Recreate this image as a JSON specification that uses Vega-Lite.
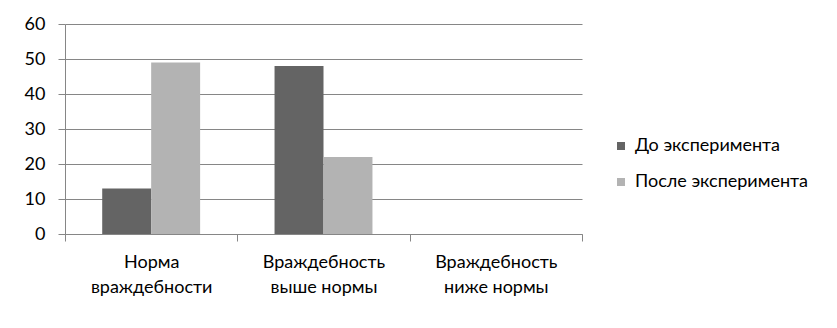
{
  "$schema": "https://vega.github.io/schema/vega-lite/v6.json",
  "autosize": {"type": "none"},
  "padding": {"left": 65, "top": 24, "right": 255, "bottom": 94},
  "width": 517,
  "height": 210,
  "background": "white",
  "config": {
    "view": {"stroke": null},
    "font": "Lato",
    "axis": {"labelFont": "Lato", "labelFontSize": 18, "labelColor": "#000000", "domainColor": "#868686", "tickColor": "#868686", "gridColor": "#868686", "gridOpacity": 1, "tickSize": 7, "titleFontSize": 0},
    "legend": {"labelFont": "Lato", "labelFontSize": 18, "labelColor": "#000000", "labelLimit": 300}
  },
  "data": {
    "values": [
      {"category": "Норма враждебности", "series": "До эксперимента", "value": 13},
      {"category": "Норма враждебности", "series": "После эксперимента", "value": 49},
      {"category": "Враждебность выше нормы", "series": "До эксперимента", "value": 48},
      {"category": "Враждебность выше нормы", "series": "После эксперимента", "value": 22},
      {"category": "Враждебность ниже нормы", "series": "До эксперимента", "value": 0},
      {"category": "Враждебность ниже нормы", "series": "После эксперимента", "value": 0}
    ]
  },
  "mark": {"type": "bar"},
  "encoding": {
    "x": {
      "field": "category",
      "type": "nominal",
      "sort": null,
      "scale": {"paddingInner": 0, "paddingOuter": 0},
      "axis": {
        "title": null,
        "labelAngle": 0,
        "tickBand": "extent",
        "labelPadding": 12,
        "labelBaseline": "top",
        "labelLineHeight": 25,
        "labelExpr": "[substring(datum.label, 0, indexof(datum.label, ' ')), substring(datum.label, indexof(datum.label, ' ') + 1)]"
      }
    },
    "xOffset": {
      "field": "series",
      "type": "nominal",
      "sort": null,
      "scale": {"paddingInner": 0, "paddingOuter": 0.76}
    },
    "y": {
      "field": "value",
      "type": "quantitative",
      "scale": {"domain": [0, 60], "nice": false},
      "axis": {"title": null, "values": [0, 10, 20, 30, 40, 50, 60], "grid": true, "labelPadding": 13}
    },
    "color": {
      "field": "series",
      "type": "nominal",
      "sort": null,
      "scale": {"range": ["#646464", "#b3b3b3"]},
      "legend": {
        "title": null,
        "orient": "none",
        "legendX": 547,
        "legendY": 113,
        "symbolType": "square",
        "symbolSize": 64,
        "symbolStrokeWidth": 0,
        "labelOffset": 5,
        "rowPadding": 18,
        "labelLimit": 300
      }
    }
  }
}
